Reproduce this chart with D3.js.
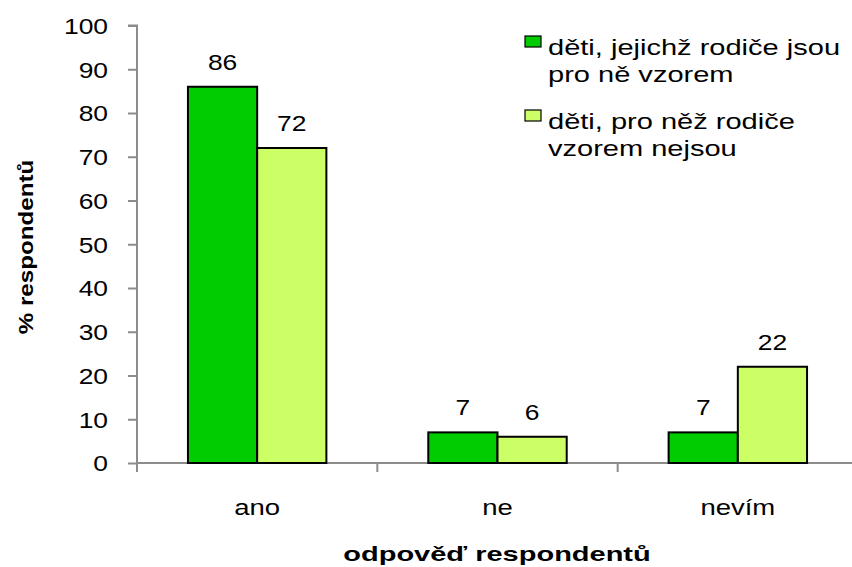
<!DOCTYPE html>
<html>
<head>
<meta charset="utf-8">
<script src="https://cdn.jsdelivr.net/npm/d3@7"></script>
<style>
  body { margin: 0; background: #fff; }
  svg text { font-family: Arial, "Liberation Sans", sans-serif; fill: #000; }
</style>
</head>
<body>
<div class="container"></div>
<script>
// data
const categories = ['ano', 'ne', 'nevím'];
const seriesNames = ['děti, jejichž rodiče jsou pro ně vzorem', 'děti, pro něž rodiče vzorem nejsou'];
const seriesA = [86, 7, 7];
const seriesB = [72, 6, 22];
const yTicks = [0, 10, 20, 30, 40, 50, 60, 70, 80, 90, 100];
const legendLines = [['děti, jejichž rodiče jsou', 'pro ně vzorem'], ['děti, pro něž rodiče', 'vzorem nejsou']];
const colors = ['#00cc00', '#ccff66'];

const width = 852, height = 567;

const svg = d3.select('.container')
  .append('svg')
  .attr('width', width)
  .attr('height', height);

// the original text is drawn a bit wide, so stretch it horizontally
function placeText(sel, x, y, k) {
  return sel.attr('transform', (d, i) => {
    const px = typeof x === 'function' ? x(d, i) : x;
    const py = typeof y === 'function' ? y(d, i) : y;
    return `translate(${px},${py}) scale(${k},1)`;
  });
}

// scales
const x = d3.scaleBand()
  .domain(categories)
  .range([137, 858])
  .paddingInner(0.424)
  .paddingOuter(0.212);

const xInner = d3.scaleBand()
  .domain([0, 1])
  .range([0, x.bandwidth()]);

const y = d3.scaleLinear()
  .domain([0, 100])
  .range([463, 25.5]);

const axisColor = '#8c8c8c';

// y axis
const yAxis = svg.append('g')
  .attr('transform', 'translate(137,0)')
  .call(d3.axisLeft(y).tickValues(yTicks).tickSize(9).tickPadding(20));
yAxis.select('.domain').attr('stroke', axisColor).attr('stroke-width', 2)
  .attr('d', `M-9,${y(100)}H0V${y(0)}`);
yAxis.selectAll('.tick line').attr('stroke', axisColor).attr('stroke-width', 2);
yAxis.selectAll('.tick text')
  .style('font-size', '22px')
  .attr('x', -29 / 1.2)
  .attr('dy', '0.36em')
  .attr('transform', 'scale(1.2,1)');

// x axis line and boundary ticks
const xAxis = svg.append('g')
  .attr('transform', `translate(0,${y(0)})`);
xAxis.append('line')
  .attr('x1', 137).attr('x2', 858)
  .attr('stroke', axisColor).attr('stroke-width', 2);
const step = x.step();
const bounds = d3.range(categories.length + 1).map(i => x.range()[0] + i * step);
xAxis.selectAll('.bt')
  .data(bounds)
  .join('line')
  .attr('class', 'bt')
  .attr('x1', d => d).attr('x2', d => d)
  .attr('y1', 0).attr('y2', 9)
  .attr('stroke', axisColor).attr('stroke-width', 2);
xAxis.selectAll('.cat')
  .data(categories)
  .join('text')
  .attr('class', 'cat')
  .attr('text-anchor', 'middle')
  .style('font-size', '22px')
  .text(d => d)
  .call(placeText, d => x(d) + x.bandwidth() / 2, 52, 1.25);

// bars
const series = [seriesA, seriesB];
series.forEach(function(vals, si) {
  const g = svg.append('g');
  g.selectAll('rect')
    .data(vals)
    .join('rect')
    .attr('x', (d, i) => x(categories[i]) + xInner(si))
    .attr('y', d => y(d))
    .attr('width', xInner.bandwidth())
    .attr('height', d => y(0) - y(d))
    .attr('fill', colors[si])
    .attr('stroke', '#000')
    .attr('stroke-width', 2);
  g.selectAll('text')
    .data(vals)
    .join('text')
    .attr('text-anchor', 'middle')
    .style('font-size', '22px')
    .text(d => d)
    .call(placeText,
      (d, i) => x(categories[i]) + xInner(si) + xInner.bandwidth() / 2,
      d => y(d) - 17, 1.2);
});

// legend
const legend = svg.append('g');
legendLines.forEach(function(lines, i) {
  const top = 36 + i * 74;
  legend.append('rect')
    .attr('x', 525).attr('y', top)
    .attr('width', 16).attr('height', 11)
    .attr('fill', colors[i])
    .attr('stroke', '#000').attr('stroke-width', 1.2)
    .append('title').text(seriesNames[i]);
  lines.forEach(function(line, j) {
    legend.append('text')
      .style('font-size', '22px')
      .text(line)
      .call(placeText, 548, top + 19 + j * 27, 1.32);
  });
});

// axis titles
svg.append('text')
  .attr('transform', 'translate(33,247) rotate(-90) scale(1.21,1)')
  .attr('text-anchor', 'middle')
  .style('font-size', '20px')
  .style('font-weight', 'bold')
  .text('% respondentů');

svg.append('text')
  .attr('text-anchor', 'middle')
  .style('font-size', '20px')
  .style('font-weight', 'bold')
  .text('odpověď respondentů')
  .call(placeText, 497, 561, 1.45);
</script>
</body>
</html>
